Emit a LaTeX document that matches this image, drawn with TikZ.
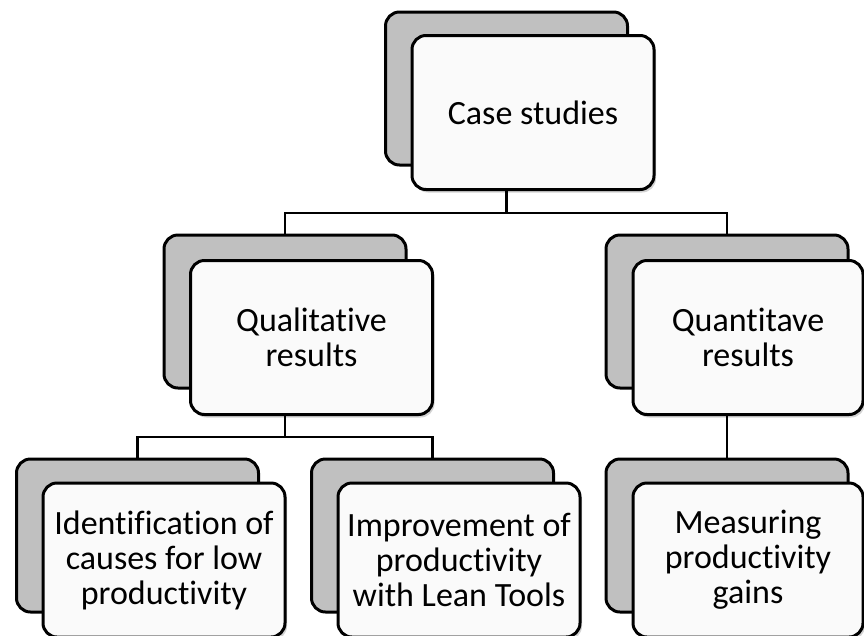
\documentclass[tikz,border=0pt]{standalone}
\usepackage{fontspec}
\setmainfont[RawFeature={-liga;-clig;-dlig}]{Carlito}
\usetikzlibrary{shadows,calc}
\definecolor{backgray}{RGB}{192,192,192}
\definecolor{frontfill}{RGB}{250,250,250}
\tikzset{
  backbox/.style={draw=black, line width=3pt, fill=backgray, rounded corners=14pt,
    minimum width=242pt, minimum height=153pt, inner sep=0pt},
  frontbox/.style={draw=black, line width=3pt, fill=frontfill, rounded corners=14pt,
    minimum width=242pt, minimum height=154pt, inner sep=0pt, align=center,
    font=\fontsize{34}{35}\selectfont,
    drop shadow={shadow xshift=2pt, shadow yshift=-3pt, opacity=0.35, fill=gray}},
  conn/.style={draw=black, line width=2.6pt}
}
\begin{document}
\begin{tikzpicture}[x=1pt,y=-1pt]
\useasboundingbox (0,0) rectangle (864,635);
\clip (0,0) rectangle (864,635);
% top
\node[backbox] (topB) at (506.5,88.5) {};
\node[frontbox] (topF) at (533,112.5) {Case studies};
% level 2
\node[backbox] (qualB) at (285,311.5) {};
\node[frontbox] (qualF) at (311.5,337.5) {Qualitative\\results};
\node[backbox] (quanB) at (727,311.5) {};
\node[frontbox, minimum width=230pt] (quanF) at (748,337.5) {Quantitave\\results};
% level 3
\node[backbox] (b1B) at (137.5,535.5) {};
\node[frontbox] (b1F) at (164,560) {Identification of\\causes for low\\productivity};
\node[backbox] (b2B) at (432.5,535.5) {};
\node[frontbox] (b2F) at (459,560) {Improvement of\\productivity\\with Lean Tools};
\node[backbox] (b3B) at (727,535.5) {};
\node[frontbox, minimum width=230pt] (b3F) at (748,560) {Measuring\\productivity\\gains};
% connectors
\coordinate (bus1) at ($(topF.south -| topB.center)+(0,22)$);
\draw[conn] (topF.south -| topB.center) -- (bus1);
\draw[conn] (qualB.north) |- (bus1) -| (quanB.north);
\coordinate (bus2) at ($(qualF.south -| qualB.center)+(0,21)$);
\draw[conn] (qualF.south -| qualB.center) -- (bus2);
\draw[conn] (b1B.north) |- (bus2) -| (b2B.north);
\draw[conn] (quanF.south -| quanB.center) -- (b3B.north);
\end{tikzpicture}
\end{document}
